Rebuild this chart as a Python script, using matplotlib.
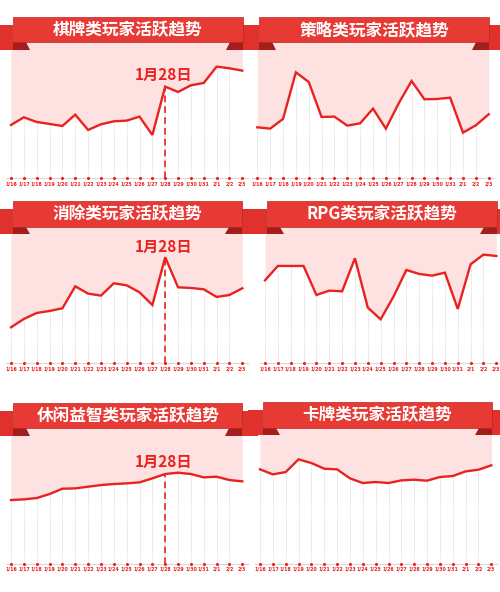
import matplotlib
matplotlib.use("Agg")
import matplotlib.pyplot as plt
from matplotlib.patches import Polygon, Rectangle

dates = ['1/16', '1/17', '1/18', '1/19', '1/20', '1/21', '1/22', '1/23', '1/24', '1/25',
         '1/26', '1/27', '1/28', '1/29', '1/30', '1/31', '2/1', '2/2', '2/3']

titles = ['棋牌类玩家活跃趋势', '策略类玩家活跃趋势', '消除类玩家活跃趋势',
          'RPG类玩家活跃趋势', '休闲益智类玩家活跃趋势', '卡牌类玩家活跃趋势']

chess = [160, 183, 169, 163, 157, 191, 145, 162, 171, 173, 185, 130, 275, 259, 279, 286, 335, 330, 323]
strategy = [153, 149, 178, 318, 289, 184, 185, 158, 165, 209, 149, 225, 292, 237, 238, 242, 137, 159, 192]
elimination = [108, 133, 151, 157, 165, 231, 209, 203, 240, 234, 213, 175, 318, 228, 226, 222, 199, 205, 225]
rpg = [249, 292, 292, 292, 205, 218, 216, 315, 167, 132, 200, 280, 268, 263, 272, 163, 297, 326, 322]
casual = [191, 193, 197, 209, 225, 226, 231, 236, 239, 241, 244, 256, 269, 273, 269, 259, 261, 251, 247]
card = [283, 268, 275, 313, 302, 285, 283, 256, 242, 245, 242, 250, 252, 249, 260, 263, 277, 282, 295]

series = [chess, strategy, elimination, rpg, casual, card]
marked = [True, False, True, False, True, False]
marker_label = '1月28日'
marker_index = 12
marker_label_y = [310, None, 348, None, 306, None]

W, H = 500, 592
RED = '#E8231F'
PINK = '#FDE2E1'
BAND = '#E83A35'
TAIL = '#E0312D'
FOLD = '#A21E1C'
EDGE = '#B92621'

# layout (pixel geometry): first/last point x, baseline y, band box
layout = [
    dict(x0=11.0, x1=242.3, yb=178.3, bl=13.3, br=242.7, bt=16.7, bb=42.3),
    dict(x0=257.3, x1=488.7, yb=178.3, bl=259.3, br=489.3, bt=16.7, bb=42.3),
    dict(x0=11.0, x1=242.3, yb=363.3, bl=13.3, br=242.3, bt=201.0, bb=226.7),
    dict(x0=265.0, x1=496.3, yb=363.3, bl=266.7, br=496.7, bt=201.0, bb=226.7),
    dict(x0=11.0, x1=242.3, yb=563.7, bl=13.3, br=242.3, bt=402.7, bb=428.3),
    dict(x0=260.0, x1=491.3, yb=563.7, bl=262.7, br=491.7, bt=402.0, bb=427.7),
]

plt.rcParams['font.family'] = ['Noto Sans CJK SC', 'DejaVu Sans']
fig = plt.figure(figsize=(W / 100, H / 100), dpi=100)
fig.patch.set_facecolor('white')

ov = fig.add_axes([0, 0, 1, 1], zorder=10)
ov.set_xlim(0, W)
ov.set_ylim(H, 0)
ov.axis('off')
ov.patch.set_alpha(0)

xs = list(range(len(dates)))
SCALE = 3.0  # data units per pixel

for k, (lay, vals) in enumerate(zip(layout, series)):
    x0, x1, yb = lay['x0'], lay['x1'], lay['yb']
    top_px = lay['bt'] + 10
    ax = fig.add_axes([x0 / W, 1 - yb / H, (x1 - x0) / W, (yb - top_px) / H], zorder=1)
    ymax = (yb - top_px) * SCALE
    ax.set_xlim(0, len(dates) - 1)
    ax.set_ylim(0, ymax)
    ax.patch.set_alpha(0)
    for s in ax.spines.values():
        s.set_visible(False)
    ax.set_yticks([])
    ax.fill_between(xs, vals, ymax, color=PINK, lw=0, zorder=1)
    ax.vlines(xs, 0, vals, colors='#c8c8c8', linestyles=(0, (1, 1.5)), lw=0.6, zorder=2)
    ax.plot([-0.4, len(dates) - 1 + 0.45], [0, 0], color='#d9d9d9', lw=0.8, clip_on=False, zorder=2)
    ax.plot(xs, vals, color=RED, lw=1.7, zorder=4, solid_joinstyle='miter', clip_on=False)
    ax.scatter(xs, [0] * len(xs), s=5, color='#F01E1E', zorder=5, clip_on=False, lw=0)
    if marked[k]:
        ax.plot([marker_index, marker_index], [0, vals[marker_index]], color=RED,
                lw=1.2, ls=(0, (4, 2.5)), zorder=3)
        ax.text(marker_index - 0.1, marker_label_y[k], marker_label, color=RED,
                fontsize=11, fontweight='black', ha='center', va='center', zorder=6)
    ax.set_xticks(xs)
    ax.set_xticklabels(dates, fontsize=3.4, color='#E8231F', fontweight='bold',
                       family='DejaVu Sans')
    ax.tick_params(axis='x', length=0, pad=2.2)

    # ribbon
    bl, br, bt, bb = lay['bl'], lay['br'], lay['bt'], lay['bb']
    tt, tb = bt + 8.3, bb + 7.5
    ov.add_patch(Rectangle((bl - 15, tt), 15, tb - tt, facecolor=TAIL, edgecolor='none', zorder=1))
    ov.add_patch(Rectangle((br, tt), 16, tb - tt, facecolor=TAIL, edgecolor='none', zorder=1))
    ov.add_patch(Polygon([(bl + 13, bb), (bl, bb), (bl, tb), (bl + 17, tb)],
                         closed=True, facecolor=FOLD, edgecolor='none', zorder=2))
    ov.add_patch(Polygon([(br - 13, bb), (br, bb), (br, tb), (br - 17, tb)],
                         closed=True, facecolor=FOLD, edgecolor='none', zorder=2))
    ov.add_patch(Rectangle((bl, bt), br - bl, bb - bt, facecolor=BAND, edgecolor=EDGE,
                           lw=0.5, zorder=3))
    ov.text((bl + br) / 2, (bt + bb) / 2 + 0.5, titles[k], color='white', fontsize=12,
            fontweight='black', ha='center', va='center', zorder=4)

fig.savefig('out.png', dpi=100, facecolor='white')
